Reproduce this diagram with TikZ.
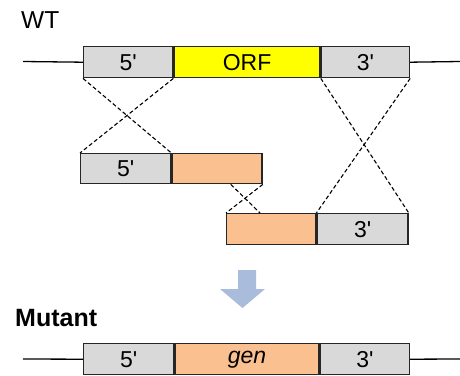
\documentclass[tikz,border=0pt]{standalone}
\usepackage{fontspec}
\setmainfont{Liberation Sans}
\usepackage{xcolor}
\usetikzlibrary{positioning}
\definecolor{flankgrey}{HTML}{D9D9D9}
\definecolor{orfyellow}{HTML}{FFFF00}
\definecolor{genorange}{HTML}{FAC090}
\definecolor{arrowblue}{HTML}{A9BCDB}
\newcommand{\pr}{\textquotesingle}

\begin{document}
\begin{tikzpicture}[x=1pt, y=-1pt,
	seg/.style={draw=black!85, line width=1.4pt, minimum height=31pt, inner sep=0pt, anchor=north west, font=\fontsize{23}{26}\selectfont},
	flank/.style={seg, fill=flankgrey},
	orf/.style={seg, fill=orfyellow},
	gen/.style={seg, fill=genorange},
	cross/.style={line width=1.1pt, dash pattern=on 4pt off 2.5pt},
	chrom/.style={line width=1.3pt}]
	\useasboundingbox (0,0) rectangle (460,375);
	% wild type
	\node[anchor=base west, inner sep=0pt, font=\fontsize{24.5}{28}\selectfont] (wt) at (21,28) {WT};
	\node[flank, minimum width=89pt] (wtfive) at (83,46) {5\pr};
	\node[orf, minimum width=146pt, right=0pt of wtfive] (wtorf) {ORF};
	\node[flank, minimum width=88pt, right=0pt of wtorf] (wtthree) {3\pr};
	\draw[chrom] (23,61.5) -- (wtfive.west);
	\draw[chrom] (wtthree.east) -- (460,61.5);
	% construct, two halves
	\node[flank, minimum width=90pt, minimum height=30pt] (afive) at (80,153) {5\pr};
	\node[gen, minimum width=90pt, minimum height=30pt, right=0pt of afive] (agen) {};
	\node[gen, minimum width=89pt] (bgen) at (226,213) {};
	\node[flank, minimum width=91pt, right=0pt of bgen] (bthree) {3\pr};
	\draw[cross] (wtfive.south west) -- (afive.north east);
	\draw[cross] (wtfive.south east) -- (afive.north west);
	\draw[cross] (wtthree.south west) -- (bthree.north east);
	\draw[cross] (wtthree.south east) -- (bthree.north west);
	\draw[cross] ([xshift=-32pt]agen.south east) -- ([xshift=34pt]bgen.north west);
	\draw[cross] (agen.south east) -- (bgen.north west);
	% block arrow
	\fill[arrowblue] (238,270) -- (256,270) -- (256,289) -- (265,289) -- (242.5,308) -- (220,289) -- (238,289) -- cycle;
	% mutant
	\node[anchor=base west, inner sep=0pt, font=\bfseries\fontsize{25}{28}\selectfont] (mut) at (15,326) {Mutant};
	\node[flank, minimum width=90pt] (mfive) at (83,343) {5\pr};
	\node[gen, minimum width=144pt, right=0pt of mfive] (mgen) {\itshape gen};
	\node[flank, minimum width=89pt, right=0pt of mgen] (mthree) {3\pr};
	\draw[chrom] (23,359) -- (mfive.west);
	\draw[chrom] (mthree.east) -- (460,359);
\end{tikzpicture}
\end{document}
